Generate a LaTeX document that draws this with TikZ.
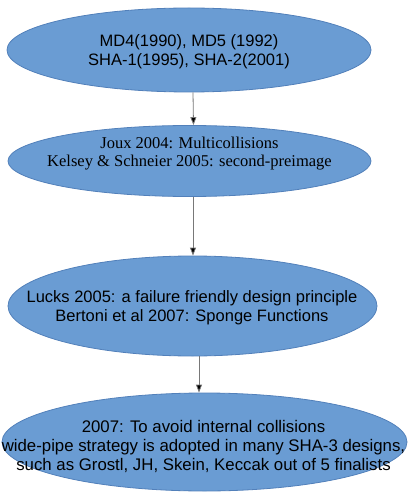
\documentclass[tikz,border=0pt]{standalone}
\usepackage{fontspec}
\setmainfont{Liberation Sans}
\newfontfamily\timesfont{Liberation Serif}
\usepackage{tikz}
\usetikzlibrary{arrows.meta,positioning,shapes.geometric}
\definecolor{hashfill}{RGB}{106,156,211}
\definecolor{hashedge}{RGB}{82,128,186}
\definecolor{arrowgray}{RGB}{120,120,120}
\begin{document}
\begin{tikzpicture}[x=1pt,y=-1pt,
  era/.style={ellipse,draw=hashedge,fill=hashfill,line width=0.8pt,inner sep=0pt},
  eratext/.style={align=center,font=\fontsize{16.5}{18.8}\selectfont,inner sep=0pt},
  flow/.style={draw=arrowgray,line width=0.8pt,-{Triangle[length=8pt,width=6pt,fill=black]}}]
\useasboundingbox (0,0) rectangle (408,494);
\node[era,minimum width=364pt,minimum height=84pt] (e1) at (189,50) {};
\node[era,minimum width=363pt,minimum height=71pt] (e2) at (189.5,161) {};
\node[era,minimum width=369pt,minimum height=100pt] (e3) at (192.5,306) {};
\node[era,minimum width=405pt,minimum height=98pt] (e4) at (204.5,442) {};
\node[eratext] (t1) at (189,52) {MD4(1990), MD5 (1992)\\SHA-1(1995), SHA-2(2001)};
\node[eratext,font=\fontsize{16.5}{18.8}\selectfont\timesfont] (t2) at (189.5,153.5) {Joux 2004: Multicollisions\\Kelsey \& Schneier 2005: second-preimage};
\node[eratext] (t3) at (192,308) {Lucks 2005: a failure friendly design principle\\Bertoni et al 2007: Sponge Functions};
\node[eratext,font=\fontsize{16.8}{18.8}\selectfont] (t4) at (203.5,446.5) {2007: To avoid internal collisions\\wide-pipe strategy is adopted in many SHA-3 designs,\\such as Grostl, JH, Skein, Keccak out of 5 finalists};
\draw[flow] ([xshift=4pt]e1.south) -- ([xshift=4pt]e2.north);
\draw[flow] ([xshift=3.5pt]e2.south) -- ([xshift=0.5pt]e3.north);
\draw[flow] ([xshift=6.5pt]e3.south) -- ([xshift=-5.5pt]e4.north);
\end{tikzpicture}
\end{document}
